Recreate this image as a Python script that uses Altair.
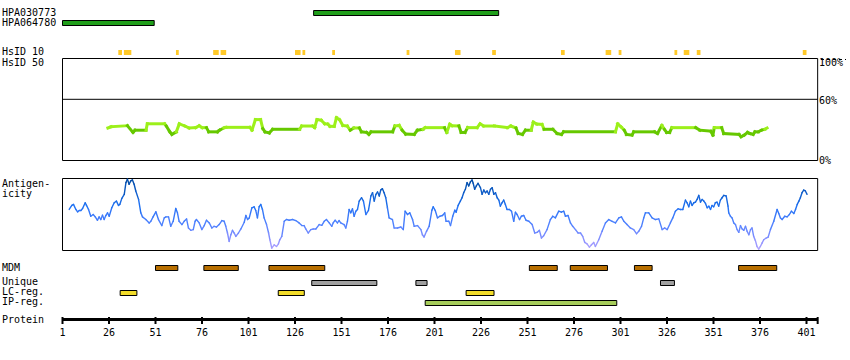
import altair as alt
import pandas as pd

# ---------------- data (residue coordinates / values) ----------------
protein_end = 407
tick_labels = [1, 26, 51, 76, 101, 126, 151, 176, 201, 226, 251, 276, 301, 326, 351, 376, 401]

antibody_names = ["HPA030773", "HPA064780"]
antibody_start = [136, 1]
antibody_end = [235.5, 50.3]

hsid10_start = [31, 34, 62, 82, 86, 126, 130, 146, 186, 212, 232, 269, 293, 300, 330, 335, 342, 399]
hsid10_end = [33, 38, 63.5, 85, 89, 129, 131.5, 147.5, 187.5, 215, 234, 271, 296, 301.5, 331.5, 338, 344, 401]

mdm_start = [51, 77, 112, 252, 274, 308.5, 364.5]
mdm_end = [63, 95.5, 142, 267, 294, 318, 385]
unique_start = [135, 191, 322.5]
unique_end = [170, 197, 330]
lcreg_start = [32, 117, 218]
lcreg_end = [41, 131, 233]
ipreg_start = [196]
ipreg_end = [299]

# HsID 50 identity (%), (residue, percent)
hsid50 = [
    (25.4, 31.9), (27.2, 33.1), (35.9, 34.1), (38.9, 27.5), (40.0, 29.7), (45.9, 29.7),
    (46.6, 36.0), (55.9, 36.0), (56.8, 33.8), (58.7, 28.1), (59.8, 25.6), (62.2, 28.1),
    (63.8, 36.0), (66.8, 33.8), (69.1, 31.9), (72.6, 32.2), (74.5, 34.1), (76.1, 32.2),
    (78.4, 32.2), (79.6, 28.1), (84.3, 28.1), (85.4, 29.7), (87.7, 31.9), (88.9, 32.5),
    (101.7, 32.5), (102.9, 29.7), (104.7, 40.1), (107.5, 40.1), (108.7, 31.2), (109.9, 28.1),
    (112.2, 27.1), (114.0, 30.6), (128.5, 30.6), (129.6, 33.8), (135.4, 33.8), (136.6, 32.2),
    (137.8, 40.1), (140.1, 39.5), (142.0, 36.0), (143.6, 35.7), (144.8, 33.5), (147.1, 33.5),
    (148.3, 42.0), (149.9, 40.1), (151.7, 34.4), (154.1, 33.8), (155.7, 29.7), (157.6, 31.9),
    (160.6, 31.9), (161.7, 28.1), (164.5, 27.5), (165.7, 25.6), (166.9, 28.1), (178.5, 28.1),
    (179.7, 33.8), (182.0, 34.4), (183.6, 29.7), (185.5, 25.9), (190.1, 25.6), (191.8, 29.7),
    (194.8, 30.6), (196.0, 32.2), (206.4, 32.2), (207.6, 27.5), (209.2, 35.7), (210.4, 34.1),
    (214.1, 33.8), (215.3, 27.5), (217.4, 27.5), (218.8, 32.2), (223.9, 32.2), (225.5, 36.0),
    (227.4, 33.8), (233.2, 33.8), (240.2, 32.2), (242.0, 33.8), (244.8, 31.9), (246.0, 26.5),
    (248.3, 25.6), (249.9, 29.7), (253.0, 29.7), (254.1, 37.6), (256.0, 35.7), (258.8, 35.4),
    (259.9, 30.6), (264.6, 30.6), (266.9, 26.5), (269.3, 25.6), (270.4, 28.1), (298.3, 28.1),
    (299.5, 36.0), (301.4, 32.8), (303.0, 29.7), (304.2, 25.6), (307.2, 24.9), (308.1, 28.1),
    (319.3, 28.1), (320.9, 26.5), (323.2, 34.4), (324.6, 30.6), (325.8, 27.5), (327.4, 27.5),
    (328.6, 32.2), (341.4, 32.2), (343.7, 29.7), (349.5, 28.7), (350.7, 24.9), (351.4, 32.2),
    (355.4, 32.2), (356.5, 26.5), (364.7, 25.6), (365.8, 23.3), (367.5, 24.9), (369.3, 27.5),
    (370.5, 26.5), (372.3, 25.6), (373.3, 28.1), (375.1, 28.1), (376.8, 29.7), (378.6, 30.6),
    (379.8, 31.9),
]

# Antigenicity (residue, relative score 0-100)
antigenicity = [
    (4.6, 57), (6.0, 62.6), (6.9, 64), (8.2, 57), (9.1, 53.7), (10.0, 55.6), (10.9, 55.6),
    (11.8, 58.4), (13.2, 66.3), (13.9, 62.6), (15.0, 57), (16.2, 47.6), (17.5, 50), (18.6, 46.7),
    (19.8, 42), (20.7, 46.7), (21.6, 43), (22.5, 49), (23.4, 43), (24.3, 48.6), (25.2, 52.3),
    (26.1, 47.6), (27.5, 59.3), (28.8, 66.3), (30.0, 68.6), (31.1, 62.6), (31.8, 64), (32.9, 72.4),
    (34.2, 78), (35.1, 94.3), (35.9, 99), (36.8, 92), (37.7, 96.7), (38.6, 98), (39.5, 92),
    (40.4, 82.7), (41.9, 71), (43.1, 52.3), (44.0, 46.7), (45.8, 43), (47.6, 38.3), (48.5, 40.6),
    (49.7, 46.7), (51.2, 53.7), (52.6, 43), (54.4, 34.6), (55.7, 45.3), (56.6, 46.7), (58.0, 46.7),
    (59.2, 33.6), (60.5, 40.6), (61.9, 58.4), (62.8, 52.3), (63.7, 40.6), (65.2, 36), (66.4, 40.6),
    (67.7, 43.9), (68.7, 31.3), (70.0, 28), (71.3, 29), (72.3, 40.6), (73.0, 43), (74.5, 38.3),
    (75.9, 29), (77.2, 34.6), (78.4, 42), (79.9, 38.3), (81.3, 31.3), (82.5, 33.6), (83.8, 32.7),
    (85.2, 36), (86.7, 41.6), (87.9, 40.6), (88.8, 33.6), (89.7, 24.3), (90.6, 12.6), (91.5, 21.9),
    (92.4, 28), (93.3, 24.3), (94.2, 19.6), (95.6, 24.3), (96.9, 29.9), (98.7, 39.2), (99.6, 48.6),
    (100.5, 43), (101.4, 45.3), (102.8, 59.3), (104.0, 60.7), (104.9, 55.6), (105.8, 45.3),
    (106.7, 60.7), (107.6, 64), (108.5, 57), (109.4, 45.3), (110.7, 36), (111.8, 24.3),
    (112.5, 14.9), (113.5, 3.3), (114.8, 7.9), (116.1, 5.6), (117.1, 9.3), (117.8, 14.9),
    (118.9, 19.6), (120.2, 40.6), (121.4, 43), (122.9, 42), (124.7, 43), (126.4, 41.6),
    (128.2, 38.3), (129.7, 34.6), (130.9, 34.6), (131.8, 29.9), (133.1, 24.3), (134.5, 29),
    (135.8, 29.9), (137.2, 29.9), (139.0, 36), (140.4, 35), (141.7, 40.6), (142.9, 43),
    (144.4, 38.3), (145.8, 33.6), (146.5, 38.3), (147.6, 42), (148.8, 38.3), (149.7, 41.6),
    (150.6, 38.3), (152.4, 36), (153.3, 31.3), (154.2, 40.6), (155.1, 57), (156.0, 52.3),
    (156.9, 57.9), (157.8, 47.6), (158.7, 54.6), (159.6, 57), (160.5, 68.6), (161.8, 73.3),
    (162.8, 68.6), (164.1, 50), (165.5, 55.6), (166.8, 75.7), (167.7, 80.3), (168.6, 68.6),
    (169.5, 78), (170.4, 81.3), (171.3, 75.7), (172.1, 84), (173.0, 85.9), (173.9, 80.3),
    (174.8, 73.3), (175.7, 59.3), (176.6, 45.3), (178.4, 43), (179.3, 31.3), (181.1, 31.3),
    (182.9, 32.7), (184.2, 29), (185.2, 54.6), (186.5, 50), (187.7, 52.3), (189.2, 43),
    (190.1, 33.6), (191.9, 34.6), (193.7, 29), (194.5, 21.9), (195.4, 18.7), (196.7, 26.6),
    (198.1, 33.6), (199.6, 56), (200.3, 60.7), (201.4, 55.6), (202.6, 45.3), (203.9, 47.6),
    (205.3, 48.6), (206.5, 52.3), (207.2, 40.6), (208.7, 40.6), (209.6, 34.6), (210.8, 47.6),
    (211.9, 56), (212.6, 53.2), (213.7, 62.6), (214.9, 68.6), (215.8, 73.3), (216.7, 80.3),
    (217.6, 85), (218.5, 94.3), (219.4, 89.7), (220.3, 95.3), (221.2, 98), (221.8, 93.4),
    (222.6, 85), (223.5, 89.7), (224.4, 93.4), (225.7, 87.3), (226.6, 78), (227.5, 84),
    (228.4, 80.3), (229.3, 82.7), (230.2, 78), (231.1, 85), (232.0, 87.3), (232.9, 78),
    (233.8, 80.3), (234.7, 73.3), (235.6, 70), (236.4, 61.6), (237.3, 66.3), (238.2, 70),
    (239.1, 64), (240.0, 57), (241.3, 57), (242.4, 54.6), (243.6, 40.6), (244.5, 53.2),
    (245.4, 50), (246.7, 43), (247.7, 47.6), (249.0, 48.6), (250.2, 42), (251.7, 40.6),
    (253.5, 36), (254.9, 24.3), (256.2, 25.2), (257.4, 28), (258.5, 17.3), (259.7, 20.5),
    (261.5, 29), (263.3, 43), (264.6, 47.6), (266.0, 45.3), (267.8, 54.6), (269.2, 53.2),
    (270.5, 54.6), (271.4, 47.6), (272.8, 48.6), (274.1, 38.3), (275.3, 33.6), (276.8, 29),
    (278.2, 24.3), (279.5, 24.3), (280.7, 19.6), (281.8, 11.2), (283.0, 9.3), (284.3, 4.7),
    (285.4, 7.9), (286.6, 11.2), (287.5, 5.6), (289.3, 14.9), (291.1, 26.6), (292.9, 38.3),
    (294.7, 43), (296.5, 40.6), (298.3, 38.3), (300.1, 45.3), (301.5, 46.7), (302.8, 40.6),
    (304.5, 36), (306.3, 31.3), (308.1, 29), (309.6, 23.4), (310.8, 26.6), (312.3, 33.6),
    (313.5, 45.3), (314.4, 52.3), (316.2, 52.3), (318.0, 45.3), (319.8, 43), (321.6, 43.9),
    (323.4, 29), (324.8, 31.3), (326.1, 29), (327.8, 38.3), (329.1, 45.3), (330.5, 54.6),
    (332.0, 57.9), (333.2, 57), (334.5, 57), (335.9, 70), (336.8, 66.3), (337.7, 60.7),
    (338.6, 68.6), (339.5, 62.6), (340.4, 66.3), (341.3, 67.2), (342.2, 71), (343.1, 76.6),
    (344.0, 67.2), (344.9, 71), (345.8, 68.6), (346.7, 65.4), (347.6, 59.3), (348.5, 61.6),
    (349.4, 57), (350.2, 62.6), (351.1, 60.7), (352.0, 66.3), (352.9, 67.2), (353.8, 61.6),
    (354.7, 70), (355.6, 73.3), (356.5, 76.6), (357.8, 75.7), (358.8, 61.6), (359.2, 52.3),
    (360.1, 47.6), (361.0, 45.3), (361.9, 38.3), (362.8, 36), (363.7, 29), (364.6, 25.2),
    (365.5, 34.6), (366.4, 29.9), (367.3, 28), (368.2, 33.6), (369.1, 26.6), (370.0, 21.9),
    (370.9, 29), (371.7, 31.3), (372.6, 19.6), (373.5, 14), (374.4, 5.6), (375.3, 1.9),
    (376.2, 5.6), (377.1, 10.3), (378.0, 14.9), (379.3, 17.3), (380.4, 18.7), (381.6, 29),
    (383.4, 40.6), (385.2, 57), (386.1, 51.4), (387.0, 45.3), (387.9, 43), (389.3, 47.6),
    (390.6, 46.7), (391.8, 50), (392.9, 54.6), (394.2, 51.4), (395.1, 57), (396.0, 64),
    (396.9, 68.6), (397.7, 73.3), (398.6, 80.3), (399.5, 84), (400.4, 82.7), (401.3, 78),
]

# ---------------- layout / style (pixels) ----------------
FONT = "DejaVu Sans Mono"
FS = 10
X = alt.Scale(domain=[1, 401], range=[62.5, 806.5], nice=False, zero=False)
Y_HSID = alt.Scale(domain=[0, 100], range=[160.5, 58.5], nice=False, zero=False)
Y_ANT = alt.Scale(domain=[0, 100], range=[250.5, 178.5], nice=False, zero=False)

left_labels = [("HPA030773", 13), ("HPA064780", 23), ("HsID 10", 52), ("HsID 50", 62.5),
               ("Antigen-", 184), ("icity", 194), ("MDM", 268), ("Unique", 282),
               ("LC-reg.", 292), ("IP-reg.", 302), ("Protein", 320)]
pct_labels = [("100%", 63), ("60%", 101), ("0%", 161)]

layers = []


def text_layer(t, x, y, align="left"):
    return alt.Chart(pd.DataFrame({"t": [t]})).mark_text(
        align=align, baseline="middle", font=FONT, fontSize=FS, color="black"
    ).encode(x=alt.value(x), y=alt.value(y), text="t:N")


for t, y in left_labels:
    layers.append(text_layer(t, 2, y))
for t, y in pct_labels:
    layers.append(text_layer(t, 819, y))


def bars(starts, ends, y0, y1, fill, stroke=True):
    df = pd.DataFrame({"s": starts, "e": ends})
    kw = dict(fill=fill)
    if stroke:
        kw.update(stroke="black", strokeWidth=1)
    else:
        kw.update(strokeWidth=0)
    return alt.Chart(df).mark_rect(**kw).encode(
        x=alt.X("s:Q", scale=X, axis=None), x2="e:Q",
        y=alt.value(y0), y2=alt.value(y1))


# antibodies
layers.append(bars([antibody_start[0]], [antibody_end[0]], 10.5, 15.5, "#1f9e1a"))
layers.append(bars([antibody_start[1]], [antibody_end[1]], 20.5, 25.5, "#1f9e1a"))
# HsID 10
layers.append(bars(hsid10_start, hsid10_end, 50, 55, "#ffc928", stroke=False))
# feature tracks
layers.append(bars(mdm_start, mdm_end, 265.5, 270.5, "#b86f00"))
layers.append(bars(unique_start, unique_end, 280.5, 285.5, "#a0a0a0"))
layers.append(bars(lcreg_start, lcreg_end, 290.5, 295.5, "#f2dc2a"))
layers.append(bars(ipreg_start, ipreg_end, 300.5, 305.5, "#a6cc5a"))

# boxes
box_df = pd.DataFrame({"s": [1], "e": [protein_end]})
for y0, y1 in [(58.5, 160.5), (178.5, 250.5)]:
    layers.append(alt.Chart(box_df).mark_rect(fillOpacity=0, stroke="black", strokeWidth=1).encode(
        x=alt.X("s:Q", scale=X, axis=None), x2="e:Q", y=alt.value(y0), y2=alt.value(y1)))

# 60% line
line60 = pd.DataFrame({"s": [1], "e": [protein_end], "p": [60]})
layers.append(alt.Chart(line60).mark_rule(color="black", strokeWidth=1).encode(
    x=alt.X("s:Q", scale=X, axis=None), x2="e:Q",
    y=alt.Y("p:Q", scale=Y_HSID, axis=None)))

# dashed continuation on top right
layers.append(alt.Chart(pd.DataFrame({"a": [0]})).mark_rule(color="black", strokeDash=[3, 3], strokeWidth=1).encode(
    x=alt.value(821), x2=alt.value(846), y=alt.value(59.5)))


def segments(pairs):
    rows = []
    for (r0, v0), (r1, v1) in zip(pairs[:-1], pairs[1:]):
        rows.append({"r": r0, "r2": r1, "v": v0, "v2": v1, "m": (v0 + v1) / 2})
    return pd.DataFrame(rows)


# HsID 50 line
hs = segments(hsid50)
layers.append(alt.Chart(hs).mark_rule(strokeWidth=3, strokeCap="square").encode(
    x=alt.X("r:Q", scale=X, axis=None), x2="r2:Q",
    y=alt.Y("v:Q", scale=Y_HSID, axis=None), y2="v2:Q",
    color=alt.Color("m:Q", scale=alt.Scale(type="threshold", domain=[31],
                                           range=["#66c800", "#9cf01a"]), legend=None)))

# Antigenicity line
ag = segments(antigenicity)
layers.append(alt.Chart(ag).mark_rule(strokeWidth=1.4, strokeCap="round").encode(
    x=alt.X("r:Q", scale=X, axis=None), x2="r2:Q",
    y=alt.Y("v:Q", scale=Y_ANT, axis=None), y2="v2:Q",
    color=alt.Color("m:Q", scale=alt.Scale(domain=[0, 15, 35, 60, 100],
                                           range=["#b6a6ff", "#8a92ff", "#5283ff", "#1f72f5", "#0048a0"]),
                    legend=None)))

# protein axis
layers.append(alt.Chart(box_df).mark_rule(color="black", strokeWidth=3).encode(
    x=alt.X("s:Q", scale=X, axis=None), x2="e:Q", y=alt.value(319.5)))
tick_df = pd.DataFrame({"r": tick_labels + [protein_end], "lab": [str(t) for t in tick_labels] + [""]})
layers.append(alt.Chart(tick_df).mark_rule(color="black", strokeWidth=2).encode(
    x=alt.X("r:Q", scale=X, axis=None), y=alt.value(317), y2=alt.value(324)))
layers.append(alt.Chart(tick_df).mark_text(font=FONT, fontSize=FS, baseline="middle", align="center", color="black").encode(
    x=alt.X("r:Q", scale=X, axis=None), y=alt.value(332.5), text="lab:N"))

chart = alt.layer(*layers).resolve_scale(y="independent", color="independent").properties(
    width=850, height=360, autosize=alt.AutoSizeParams(type="none"), padding=0
).configure_view(stroke=None)

chart.save("out.html", embed_options={"renderer": "svg", "actions": False})
